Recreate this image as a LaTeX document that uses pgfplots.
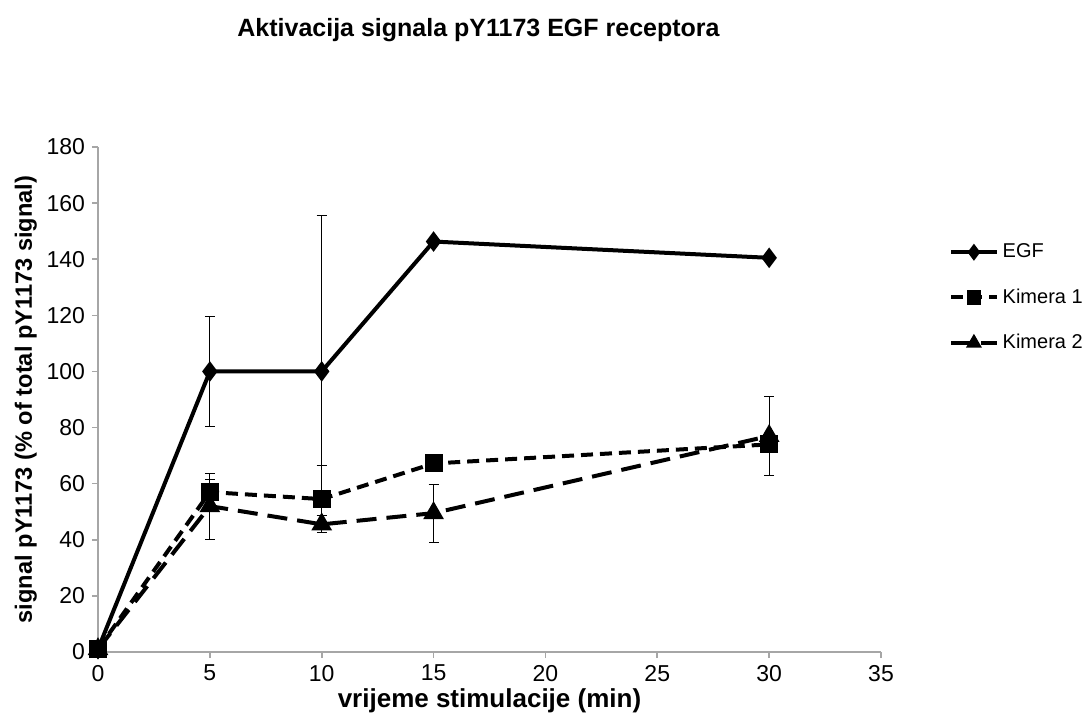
\documentclass[border=0pt]{standalone}
\usepackage{fontspec}
\setmainfont{Liberation Sans}
\usepackage{pgfplots}
\pgfplotsset{compat=1.18}

\begin{document}
\begin{tikzpicture}
\begin{axis}[name=ax,
  scale only axis, width=391.5pt, height=252.5pt,
  xmin=0, xmax=35, ymin=0, ymax=180,
  xtick={0,5,...,35}, ytick={0,20,...,180},
  axis lines*=left, axis line style={gray!70, line width=0.8pt},
  tick style={gray!70, line width=0.8pt}, tick align=outside,
  major tick length=3pt,
  /pgf/number format/assume math mode=true,
  ticklabel style={font=\fontsize{11.5}{13}\selectfont},
  xlabel={\textbf{vrijeme stimulacije (min)}},
  ylabel={\textbf{signal pY1173 (\% of total pY1173 signal)}},
  xlabel style={font=\fontsize{13}{15}\selectfont, yshift=3pt},
  ylabel style={font=\fontsize{11.8}{13}\selectfont, yshift=-2pt},
  clip=false,
  legend style={draw=none, at={(1.084,0.825)}, anchor=north west,
    font=\fontsize{10}{12}\selectfont, row sep=10pt, inner xsep=1pt},
  legend cell align=left,
  legend image code/.code={\draw[mark repeat=2, mark phase=2, mark size=2.6pt]
    plot coordinates {(0cm,0cm) (0.4cm,0cm) (0.8cm,0cm)};},
  error bars/error bar style={black, line width=0.5pt, solid},
  error bars/error mark options={black, rotate=90, mark size=2.5pt, line width=0.5pt, solid},
]
\addplot[black, line width=2pt, solid, mark=diamond*, mark size=3.5pt, mark options={solid, fill=black},
  error bars/.cd, y dir=both, y explicit]
  table[x=t, y=v, y error=e] {
  t v e
  0 1 0
  5 100 19.6
  10 100 55.5
  15 146.3 0
  30 140.5 0
};
\addlegendentry{EGF}
\addplot[black, line width=2pt, dash pattern=on 6pt off 3.5pt, mark=square*, mark size=3.5pt, mark options={solid, fill=black},
  error bars/.cd, y dir=both, y explicit]
  table[x=t, y=v, y error=e] {
  t v e
  0 1 0
  5 57 4.6
  10 54.5 12
  15 67.2 0
  30 74 0
};
\addlegendentry{Kimera 1}
\addplot[black, line width=2pt, dash pattern=on 10pt off 5pt, mark=triangle*, mark size=4pt, mark options={solid, fill=black},
  error bars/.cd, y dir=both, y explicit]
  table[x=t, y=v, y error=e] {
  t v e
  0 1 0
  5 52 11.8
  10 45.5 3
  15 49.5 10.3
  30 77 14
};
\addlegendentry{Kimera 2}
\end{axis}
\node[font=\bfseries\fontsize{12.5}{14}\selectfont] at ([xshift=-5.5pt, yshift=58.5pt]ax.north) {Aktivacija signala pY1173 EGF receptora};
\pgfresetboundingbox
\path ([xshift=-49pt, yshift=-33.5pt]ax.south west) rectangle ([xshift=105pt, yshift=73.5pt]ax.north east);
\end{tikzpicture}
\end{document}
